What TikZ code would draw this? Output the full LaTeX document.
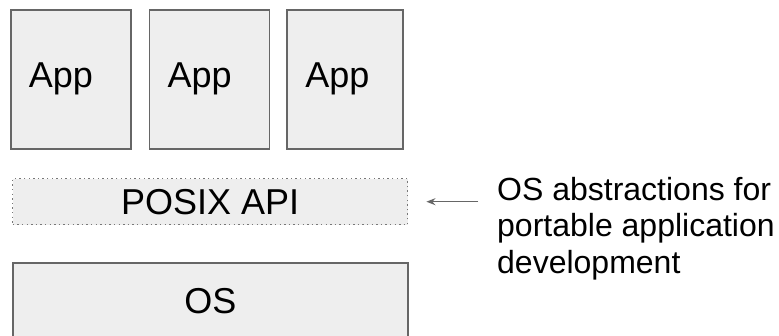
\documentclass[tikz,border=0pt]{standalone}
\usepackage{fontspec}
\setmainfont{Liberation Sans}
\usetikzlibrary{arrows.meta, positioning}
\definecolor{boxfill}{HTML}{EEEEEE}
\definecolor{boxline}{HTML}{666666}
\definecolor{dotline}{HTML}{777777}

\begin{document}
\begin{tikzpicture}[x=1pt,y=-1pt]
    \tikzstyle{every node} = [font=\fontsize{36}{40}\selectfont]
    \tikzstyle{appbox} = [draw=boxline, fill=boxfill, line width=1.7pt, rectangle, inner xsep=18pt, text width=84pt, align=left, minimum height=139pt]
    \tikzstyle{layer} = [fill=boxfill, rectangle, minimum width=395pt, inner sep=0pt]
    \useasboundingbox (0,0) rectangle (779,336);
    % place nodes
    \node[appbox, anchor=north west](app1) at (10,9){App};
    \node[appbox, right=17pt of app1](app2){App};
    \node[appbox, right=16pt of app2, text width=80pt](app3){App};
    \node[layer, draw=dotline, dash pattern=on 1.4pt off 3.2pt, line width=1.4pt, minimum height=46pt, anchor=north west](posix) at (12,178){POSIX API};
    \node[layer, draw=boxline, line width=1.7pt, minimum height=76pt, anchor=north west](os) at (12,262){OS};
    \node[anchor=north west, inner sep=0pt, align=left, font=\fontsize{32}{36.5}\selectfont](note) at (497,177){OS abstractions for\\portable application\\development};

    % Connections
    \draw[-{Stealth[length=9pt,width=7pt]}, draw=boxline, fill=boxline, line width=1.6pt, shorten <=19pt, shorten >=18pt]
    (posix.east -| note.west)--(posix.east);
\end{tikzpicture}
\end{document}
